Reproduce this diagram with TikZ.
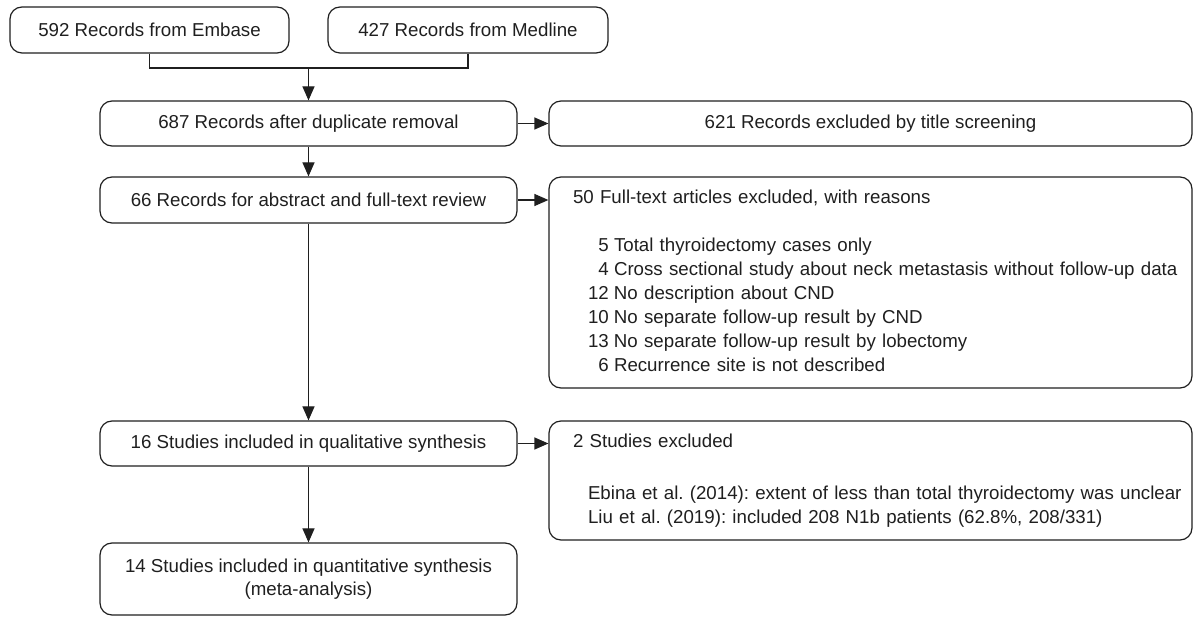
\documentclass[tikz,border=0pt]{standalone}
\usepackage{fontspec}
\setmainfont{Liberation Sans}
\usetikzlibrary{arrows.meta}
\definecolor{ink}{gray}{0.12}
\frenchspacing
\begin{document}
\begin{tikzpicture}[x=1pt,y=-1pt,
  box/.style={draw=ink, text=ink, line width=1.2pt, rounded corners=12pt, inner sep=0pt,
              font=\fontsize{18.7}{23}\selectfont, align=center},
  listbox/.style={box, align=left, inner xsep=24pt, font=\fontsize{18.7}{24}\selectfont},
  conn/.style={draw=ink, line width=1.2pt},
  arr/.style={conn, -{Triangle[length=14pt,width=12pt]}}]
\useasboundingbox (0,0) rectangle (1195,617);

\node[box, minimum width=279pt, minimum height=46pt] (embase) at (149.5,30) {592 Records from Embase};
\node[box, minimum width=280pt, minimum height=46pt] (medline) at (468,30) {427 Records from Medline};
\node[box, minimum width=417pt, minimum height=45pt] (dup) at (308.5,123.5) {687 Records after duplicate removal};
\node[box, minimum width=643pt, minimum height=45pt] (title) at (870.5,123.5) {621 Records excluded by title screening};
\node[box, minimum width=417pt, minimum height=46pt] (abs) at (308.5,200) {66 Records for abstract and full-text review};
\node[listbox, minimum width=643pt, minimum height=211pt, text width=595pt] (ft) at (870.5,282.5) {%
  \begin{tabular}{@{\hspace{15pt}}r@{\hspace{5.2pt}}l@{}}
  \multicolumn{2}{@{}l@{}}{50 Full-text articles excluded, with reasons}\\
  \\
  5 & Total thyroidectomy cases only\\
  4 & Cross sectional study about neck metastasis without follow-up data\\
  12 & No description about CND\\
  10 & No separate follow-up result by CND\\
  13 & No separate follow-up result by lobectomy\\
  6 & Recurrence site is not described
  \end{tabular}};
\node[box, minimum width=417pt, minimum height=45pt] (qual) at (308.5,443.5) {16 Studies included in qualitative synthesis};
\node[listbox, minimum width=643pt, minimum height=119pt, text width=595pt] (excl) at (870.5,480.5) {%
  \begin{tabular}{@{\hspace{15pt}}l@{}}
  \multicolumn{1}{@{}l@{}}{2 Studies excluded}\\[28pt]
  Ebina et al. (2014): extent of less than total thyroidectomy was unclear\\
  Liu et al. (2019): included 208 N1b patients (62.8\%, 208/331)
  \end{tabular}};
\node[box, minimum width=417pt, minimum height=72pt] (quant) at (308.5,579) {14 Studies included in quantitative synthesis\\(meta-analysis)};

\coordinate (j) at (308.5,68);
\draw[conn] (embase.south) -- (embase.south |- j) -- (medline.south |- j) -- (medline.south);
\draw[arr] (j) -- (dup.north);
\draw[arr] (dup.east) -- (title.west);
\draw[arr] (dup.south) -- (abs.north);
\draw[arr] (abs.east) -- (abs.east -| ft.west);
\draw[arr] (abs.south) -- (qual.north);
\draw[arr] (qual.east) -- (qual.east -| excl.west);
\draw[arr] (qual.south) -- (quant.north);
\end{tikzpicture}
\end{document}
